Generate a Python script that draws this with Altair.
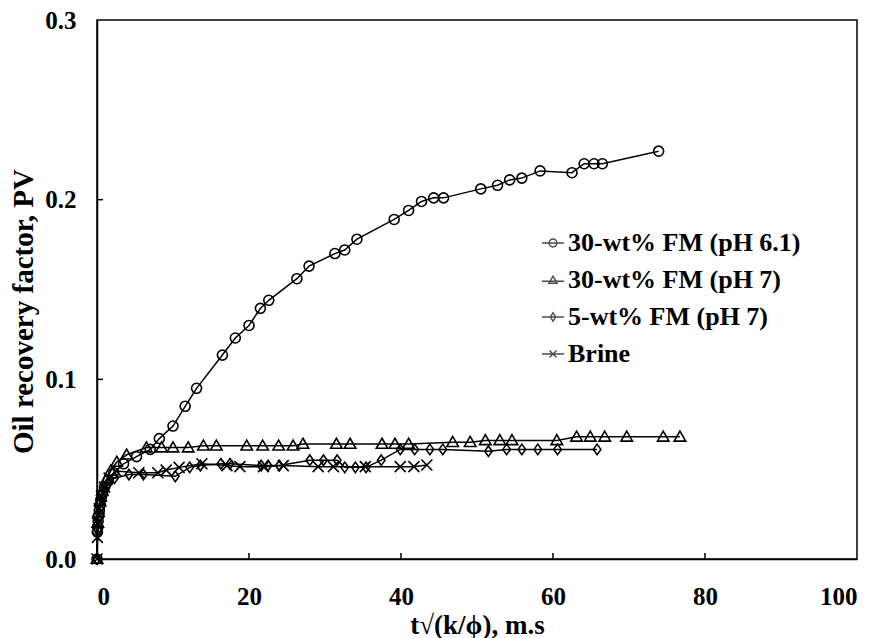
import altair as alt
import pandas as pd

names = ["30-wt% FM (pH 6.1)", "30-wt% FM (pH 7)", "5-wt% FM (pH 7)", "Brine"]

c_x = [0, 0.05, 0.1, 0.15, 0.2, 0.3, 0.4, 0.5, 0.7, 1.0, 1.5, 2.2, 3.5, 5.2, 7.0, 8.2, 10.0, 11.6,
       13.1, 16.5, 18.2, 20.0, 21.5, 22.6, 26.3, 27.9, 31.3, 32.6, 34.2, 39.1, 41.0, 42.7, 44.3,
       45.6, 50.5, 52.7, 54.3, 55.9, 58.3, 62.5, 64.1, 65.4, 66.5, 73.9]
c_y = [0, 0.015, 0.018, 0.021, 0.024, 0.027, 0.030, 0.033, 0.036, 0.040, 0.044, 0.048, 0.053,
       0.057, 0.061, 0.067, 0.074, 0.085, 0.095, 0.1135, 0.123, 0.130, 0.1395, 0.144, 0.156,
       0.163, 0.170, 0.172, 0.178, 0.189, 0.194, 0.199, 0.201, 0.201, 0.206, 0.208, 0.211,
       0.212, 0.216, 0.215, 0.220, 0.220, 0.220, 0.227]

t_x = [0, 0.1, 0.2, 0.4, 0.7, 1.2, 1.8, 2.6, 3.9, 6.5, 8.5, 10.0, 12.0, 14.0, 15.7, 19.7, 21.8,
       23.9, 25.8, 27.1, 31.5, 33.3, 37.5, 39.2, 41.0, 46.8, 49.1, 51.1, 53.0, 54.6, 60.5, 63.1,
       64.9, 66.8, 69.7, 74.5, 76.7]
t_y = [0, 0.020, 0.026, 0.032, 0.038, 0.044, 0.049, 0.054, 0.058, 0.062, 0.062, 0.062, 0.062,
       0.063, 0.063, 0.063, 0.063, 0.063, 0.063, 0.064, 0.064, 0.064, 0.064, 0.064, 0.064,
       0.065, 0.065, 0.066, 0.066, 0.066, 0.066, 0.068, 0.068, 0.068, 0.068, 0.068, 0.068]

d_x = [0, 0.1, 0.2, 0.4, 0.7, 1.0, 1.5, 2.3, 4.2, 6.1, 10.3, 12.2, 13.6, 16.3, 17.5, 21.6, 22.5,
       24.0, 28.0, 29.8, 31.6, 32.6, 34.0, 35.4, 37.4, 39.9, 41.8, 43.8, 45.5, 51.5, 53.9, 55.9,
       58.0, 60.6, 65.8]
d_y = [0, 0.016, 0.022, 0.028, 0.034, 0.038, 0.042, 0.045, 0.047, 0.047, 0.046, 0.051, 0.052,
       0.053, 0.053, 0.052, 0.052, 0.052, 0.055, 0.055, 0.055, 0.051, 0.051, 0.051, 0.055,
       0.061, 0.061, 0.061, 0.061, 0.060, 0.061, 0.061, 0.061, 0.061, 0.061]

b_x = [0, 0.05, 0.1, 0.3, 0.6, 1.0, 1.6, 2.5, 5.5, 8.0, 9.1, 10.8, 13.8, 17.1, 18.8, 21.9, 24.5,
       29.1, 31.1, 35.3, 39.9, 41.7, 43.4]
b_y = [0, 0.012, 0.020, 0.028, 0.035, 0.040, 0.045, 0.049, 0.048, 0.048, 0.0495, 0.051, 0.053,
       0.052, 0.0514, 0.0514, 0.052, 0.0514, 0.0514, 0.0514, 0.0514, 0.0514, 0.0523]

rows = []
for name, xs, ys in zip(names, [c_x, t_x, d_x, b_x], [c_y, t_y, d_y, b_y]):
    for xv, yv in zip(xs, ys):
        rows.append({"series": name, "x": xv, "y": yv})
df = pd.DataFrame(rows)

x_ticks = pd.DataFrame({"x": [20, 40, 60, 80]})
y_ticks = pd.DataFrame({"y": [0.1, 0.2]})
legend_df = pd.DataFrame({"series": names, "x": [None] * 4, "y": [None] * 4})

FONT = "Liberation Serif"
xscale = alt.Scale(domain=[0, 100], nice=False, zero=False)
yscale = alt.Scale(domain=[0, 0.3], nice=False, zero=False)

xaxis = alt.Axis(title="t\u221a(k/\u03d5), m.s", values=[0, 20, 40, 60, 80, 100], format="d",
                 labelPadding=25, titlePadding=3, titleFontSize=27)
yaxis = alt.Axis(title="Oil recovery factor, PV", values=[0, 0.1, 0.2, 0.3], format=".1f",
                 labelPadding=21, titlePadding=6, titleFontSize=29, titleY=291)

TRIANGLE = "M0,-1.15L1.15,0.85L-1.15,0.85Z"
DIAMOND = "M0,-1.05L0.75,0L0,1.05L-0.75,0Z"
XMARK = "M-1.1,-1.1L1.1,1.1M-1.1,1.1L1.1,-1.1"
point_shapes = ["circle", TRIANGLE, DIAMOND, XMARK]

LEG_C = "M-1,0L1,0M0.36,0A0.36,0.36 0 1,1 -0.36,0A0.36,0.36 0 1,1 0.36,0"
LEG_T = "M-1,0.12L1,0.12M0,-0.36L0.38,0.3L-0.38,0.3Z"
LEG_D = "M-1,0L1,0M0,-0.38L0.24,0L0,0.38L-0.24,0Z"
LEG_X = "M-1,0L1,0M-0.32,-0.32L0.32,0.32M-0.32,0.32L0.32,-0.32"
legend_shapes = [LEG_C, LEG_T, LEG_D, LEG_X]

lines = alt.Chart(df).mark_line(color="black", strokeWidth=1.5).encode(
    x=alt.X("x:Q", scale=xscale, axis=xaxis),
    y=alt.Y("y:Q", scale=yscale, axis=yaxis),
    detail="series:N",
    order="x:Q",
)

points = alt.Chart(df).mark_point(filled=False, color="black", strokeWidth=1.6, size=100,
                                  opacity=1).encode(
    x="x:Q",
    y="y:Q",
    shape=alt.Shape("series:N", scale=alt.Scale(domain=names, range=point_shapes), legend=None),
)

legend_layer = alt.Chart(legend_df).mark_point(filled=False, color="black").encode(
    x="x:Q",
    y="y:Q",
    shape=alt.Shape("series:N", scale=alt.Scale(domain=names, range=legend_shapes),
                    legend=alt.Legend(title=None, orient="none", legendX=443, legendY=210,
                                      symbolSize=484, symbolStrokeWidth=1.4,
                                      symbolStrokeColor="black", symbolFillColor="transparent",
                                      labelFont=FONT, labelFontSize=26, labelFontWeight="bold",
                                      labelColor="black", rowPadding=11, labelOffset=2,
                                      padding=0, labelLimit=400)),
)

xt = alt.Chart(x_ticks).mark_rule(color="black", strokeWidth=1.5).encode(
    x="x:Q", y=alt.value(539), y2=alt.value(533))
yt = alt.Chart(y_ticks).mark_rule(color="black", strokeWidth=1.5).encode(
    y="y:Q", x=alt.value(0), x2=alt.value(6))

chart = alt.layer(lines, points, legend_layer, xt, yt).resolve_scale(
    shape="independent"
).properties(
    width=760, height=539, autosize="none",
    padding={"left": 97, "top": 20, "right": 23, "bottom": 79},
    background="white",
).configure_view(
    stroke="black", strokeWidth=1.5
).configure_axis(
    labelFont=FONT, labelFontSize=25, labelFontWeight="bold", labelColor="black",
    titleFont=FONT, titleFontWeight="bold", titleColor="black",
    domainColor="black", domainWidth=1.5, ticks=False, grid=False,
)

chart.save("out.html", embed_options={"renderer": "svg", "actions": False})
